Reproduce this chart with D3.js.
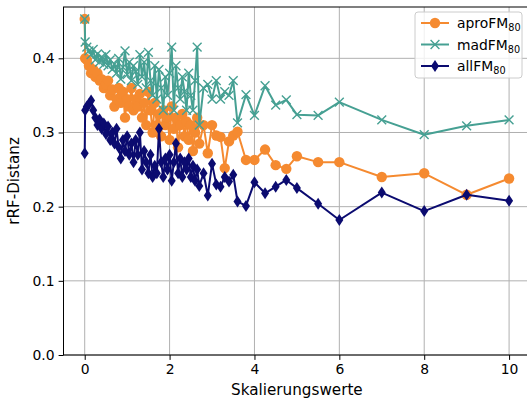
<!DOCTYPE html>
<html>
<head>
<meta charset="utf-8">
<script src="https://cdn.jsdelivr.net/npm/d3@7"></script>
<style>
  body { margin: 0; background: #fff; }
  text { font-family: "DejaVu Sans", sans-serif; }
</style>
</head>
<body>
<div id="chart"></div>
<script>
// scaling values (x)
const xValues = [0, 0.01, 0.05, 0.1, 0.15, 0.2, 0.25, 0.3, 0.35, 0.4, 0.45, 0.5, 0.55, 0.6, 0.65, 0.7,
  0.75, 0.8, 0.85, 0.9, 0.95, 1.0, 1.05, 1.1, 1.15, 1.2, 1.25, 1.3, 1.35, 1.4, 1.45, 1.5, 1.55, 1.6,
  1.65, 1.7, 1.75, 1.8, 1.85, 1.9, 1.95, 2.0, 2.05, 2.1, 2.15, 2.2, 2.25, 2.3, 2.35, 2.4, 2.45, 2.5,
  2.55, 2.6, 2.65, 2.7, 2.8, 2.9, 3.0, 3.1, 3.2, 3.3, 3.4, 3.5, 3.6, 3.8, 4.0, 4.25, 4.5, 4.75, 5.0,
  5.5, 6, 7, 8, 9, 10];

const aproFM = [0.453, 0.400, 0.398, 0.390, 0.380, 0.385, 0.375, 0.380, 0.370, 0.372, 0.360, 0.365,
  0.370, 0.350, 0.358, 0.335, 0.345, 0.360, 0.340, 0.355, 0.320, 0.345, 0.335, 0.360, 0.330, 0.345,
  0.335, 0.352, 0.320, 0.340, 0.310, 0.355, 0.330, 0.300, 0.340, 0.310, 0.325, 0.295, 0.330, 0.310,
  0.320, 0.290, 0.335, 0.305, 0.320, 0.280, 0.310, 0.325, 0.295, 0.315, 0.290, 0.310, 0.275, 0.300,
  0.320, 0.285, 0.310, 0.272, 0.310, 0.296, 0.294, 0.252, 0.288, 0.296, 0.301, 0.263, 0.263, 0.277,
  0.256, 0.251, 0.268, 0.260, 0.260, 0.240, 0.245, 0.216, 0.238];

const madFM = [0.453, 0.422, 0.415, 0.410, 0.405, 0.412, 0.398, 0.406, 0.395, 0.402, 0.392, 0.405,
  0.390, 0.398, 0.385, 0.392, 0.380, 0.400, 0.372, 0.388, 0.410, 0.378, 0.395, 0.370, 0.390, 0.382,
  0.365, 0.405, 0.375, 0.395, 0.360, 0.408, 0.370, 0.350, 0.390, 0.345, 0.385, 0.360, 0.330, 0.375,
  0.350, 0.380, 0.415, 0.330, 0.390, 0.360, 0.345, 0.375, 0.355, 0.330, 0.380, 0.350, 0.330, 0.370,
  0.415, 0.310, 0.360, 0.365, 0.345, 0.370, 0.345, 0.355, 0.350, 0.370, 0.313, 0.351, 0.323, 0.363,
  0.337, 0.344, 0.324, 0.323, 0.341, 0.317, 0.297, 0.309, 0.317];

const allFM = [0.272, 0.330, 0.335, 0.338, 0.343, 0.330, 0.320, 0.310, 0.318, 0.305, 0.312, 0.298,
  0.308, 0.290, 0.300, 0.285, 0.305, 0.280, 0.265, 0.290, 0.275, 0.295, 0.270, 0.285, 0.260, 0.290,
  0.270, 0.300, 0.250, 0.275, 0.260, 0.245, 0.270, 0.240, 0.255, 0.245, 0.305, 0.260, 0.240, 0.265,
  0.250, 0.270, 0.235, 0.260, 0.285, 0.245, 0.265, 0.240, 0.260, 0.250, 0.265, 0.240, 0.255, 0.235,
  0.250, 0.228, 0.245, 0.215, 0.258, 0.230, 0.227, 0.240, 0.234, 0.243, 0.207, 0.201, 0.233, 0.218,
  0.227, 0.236, 0.225, 0.204, 0.182, 0.219, 0.194, 0.216, 0.208];

const xTicks = [0, 2, 4, 6, 8, 10];
const yTicks = [0.0, 0.1, 0.2, 0.3, 0.4];

const width = 527;
const height = 407;
const margin = {top: 7, right: -3.3, bottom: 52, left: 63.5};

const svg = d3.select('#chart').append('svg')
  .attr('width', width).attr('height', height);

const x = d3.scaleLinear().domain([-0.5, 10.5]).range([margin.left, width - margin.right]);
const y = d3.scaleLinear().domain([0, 0.4692]).range([height - margin.bottom, margin.top]);

// grid
svg.append('g').selectAll('line').data(xTicks).enter().append('line')
  .attr('x1', d => x(d)).attr('x2', d => x(d))
  .attr('y1', y.range()[0]).attr('y2', y.range()[1])
  .attr('stroke', '#b0b0b0').attr('stroke-width', 1);
svg.append('g').selectAll('line').data(yTicks).enter().append('line')
  .attr('x1', x.range()[0]).attr('x2', x.range()[1])
  .attr('y1', d => y(d)).attr('y2', d => y(d))
  .attr('stroke', '#b0b0b0').attr('stroke-width', 1);

const series = [
  {name: 'aproFM', values: aproFM, color: '#f58a30', marker: 'circle'},
  {name: 'madFM', values: madFM, color: '#46a093', marker: 'x'},
  {name: 'allFM', values: allFM, color: '#0b0b70', marker: 'diamond'}
];

function drawMarker(g, type, cx, cy, color) {
  if (type === 'circle') {
    g.append('circle').attr('cx', cx).attr('cy', cy).attr('r', 5.2).attr('fill', color);
  } else if (type === 'x') {
    const s = 4.4;
    g.append('path')
      .attr('d', `M${cx - s},${cy - s}L${cx + s},${cy + s}M${cx - s},${cy + s}L${cx + s},${cy - s}`)
      .attr('stroke', color).attr('stroke-width', 1.4).attr('fill', 'none');
  } else {
    const w = 4, h = 6;
    g.append('path')
      .attr('d', `M${cx},${cy - h}L${cx + w},${cy}L${cx},${cy + h}L${cx - w},${cy}Z`)
      .attr('fill', color);
  }
}

const line = d3.line().x(d => x(d[0])).y(d => y(d[1]));

series.forEach(s => {
  const pts = xValues.map((xv, i) => [xv, s.values[i]]);
  const g = svg.append('g');
  g.append('path').datum(pts).attr('d', line)
    .attr('fill', 'none').attr('stroke', s.color).attr('stroke-width', 2)
    .attr('stroke-linejoin', 'round');
  pts.forEach(p => drawMarker(g, s.marker, x(p[0]), y(p[1]), s.color));
});

// axes
const xAxis = d3.axisBottom(x).tickValues(xTicks).tickFormat(d3.format('d')).tickSizeOuter(0).tickSize(4.9).tickPadding(4);
const gx = svg.append('g').attr('transform', `translate(0,${y.range()[0]})`).call(xAxis);
const yAxis = d3.axisLeft(y).tickValues(yTicks).tickFormat(d3.format('.1f')).tickSizeOuter(0).tickSize(4.9).tickPadding(4);
const gy = svg.append('g').attr('transform', `translate(${x.range()[0]},0)`).call(yAxis);
[gx, gy].forEach(g => {
  g.select('.domain').remove();
  g.selectAll('text').style('font-family', '"DejaVu Sans", sans-serif')
    .style('font-size', '13.9px').attr('fill', '#000');
  g.selectAll('line').attr('stroke', '#000').attr('stroke-width', 1);
});

// frame
svg.append('rect')
  .attr('x', x.range()[0]).attr('y', y.range()[1])
  .attr('width', x.range()[1] - x.range()[0]).attr('height', y.range()[0] - y.range()[1])
  .attr('fill', 'none').attr('stroke', '#000').attr('stroke-width', 1);

// labels
svg.append('text').attr('x', (x.range()[0] + x.range()[1]) / 2).attr('y', 395)
  .attr('text-anchor', 'middle').style('font-size', '15.2px').text('Skalierungswerte');
svg.append('text').attr('transform', `translate(19,${(y.range()[0] + y.range()[1]) / 2}) rotate(-90)`)
  .attr('text-anchor', 'middle').style('font-size', '15.2px').text('rRF-Distanz');

// legend
const lg = svg.append('g').attr('transform', 'translate(415,12)');
lg.append('rect').attr('width', 107).attr('height', 66).attr('rx', 3)
  .attr('fill', '#fff').attr('fill-opacity', 0.8).attr('stroke', '#cccccc').attr('stroke-width', 1);
series.forEach((s, i) => {
  const cy = 11 + i * 21.5;
  lg.append('line').attr('x1', 6).attr('x2', 34).attr('y1', cy).attr('y2', cy)
    .attr('stroke', s.color).attr('stroke-width', 2);
  drawMarker(lg, s.marker, 20, cy, s.color);
  const t = lg.append('text').attr('x', 42).attr('y', cy + 5).style('font-size', '13.9px');
  t.append('tspan').text(s.name);
  t.append('tspan').attr('dy', 3).style('font-size', '9.7px').text('80');
});
</script>
</body>
</html>
